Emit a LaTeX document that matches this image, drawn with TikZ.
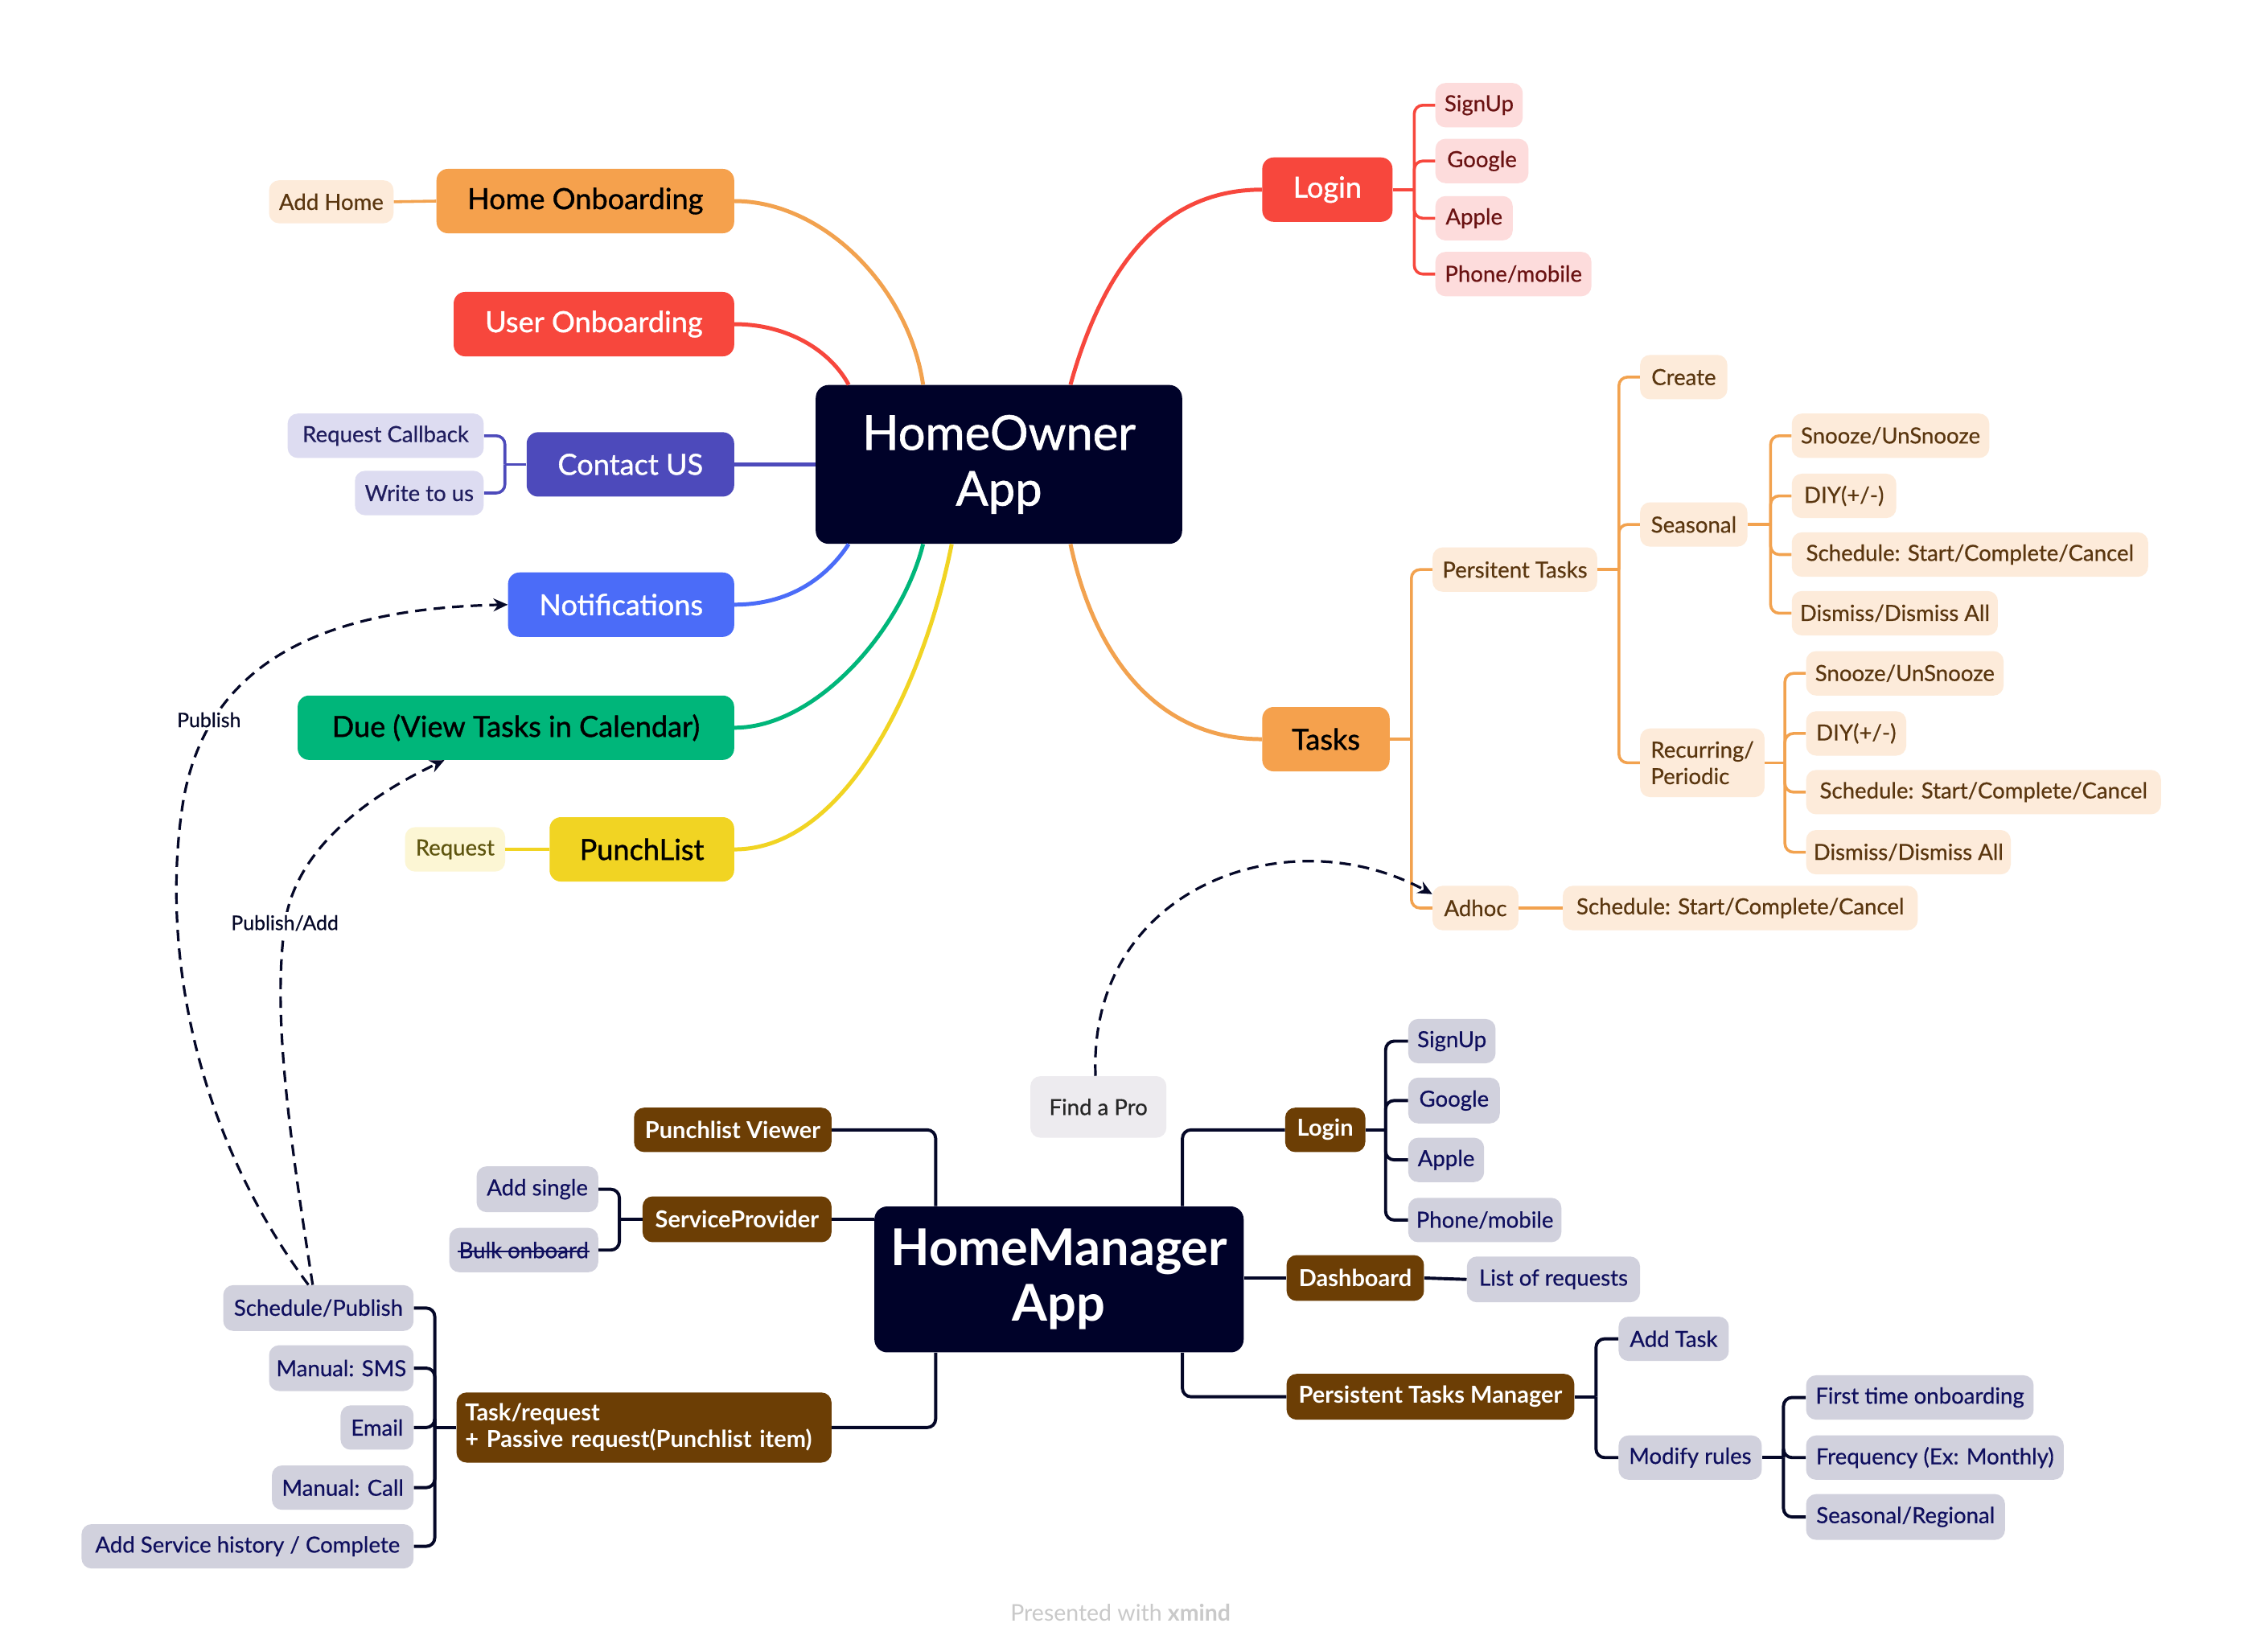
\documentclass[tikz,border=0pt]{standalone}
\usepackage{fontspec}
\setmainfont{Lato}
\newfontfamily\mmmed{Lato}[FakeBold=1.1]
\newfontfamily\mmlight{Lato}[FakeBold=0.5]
\usetikzlibrary{arrows.meta}
\definecolor{cNavy}{HTML}{000229}
\definecolor{cOrange}{HTML}{F5A14D}
\definecolor{cOrangeLn}{HTML}{F2A24F}
\definecolor{cOrangeL}{HTML}{FDEBDA}
\definecolor{cOrangeT}{HTML}{5A360F}
\definecolor{cRed}{HTML}{F7473D}
\definecolor{cRedL}{HTML}{FDDCDC}
\definecolor{cRedT}{HTML}{6A1212}
\definecolor{cIndigo}{HTML}{4D4ABB}
\definecolor{cIndigoL}{HTML}{DDDCF1}
\definecolor{cIndigoT}{HTML}{201D5E}
\definecolor{cBlue}{HTML}{4B6CF8}
\definecolor{cGreen}{HTML}{00B67A}
\definecolor{cYellow}{HTML}{F1D423}
\definecolor{cYellowL}{HTML}{FCF6D4}
\definecolor{cYellowT}{HTML}{5E550F}
\definecolor{cBrown}{HTML}{6C3E05}
\definecolor{cGray}{HTML}{D1D1DD}
\definecolor{cGrayT}{HTML}{0F0F5E}
\definecolor{cFind}{HTML}{EDEBEF}
\definecolor{cLine}{HTML}{050828}
\definecolor{cFoot}{HTML}{C9C9C9}
\newcommand\myfcent{\mmmed\fontsize{33.5}{39}\selectfont}
\newcommand\myfhm{\fontsize{35.5}{39}\selectfont\bfseries}
\newcommand\myfmain{\mmmed\fontsize{20.3}{24}\selectfont}
\newcommand\myfsub{\mmlight\fontsize{15.5}{18.5}\selectfont}
\newcommand\myfbrown{\fontsize{16.3}{18.5}\selectfont\bfseries}
\newcommand\myflab{\mmlight\fontsize{14}{16}\selectfont}
\begin{document}
\begin{tikzpicture}[x=1pt,y=-1pt,
  mmroot/.style={fill=cNavy, text=white, rounded corners=9pt, inner sep=0pt, align=center, font=\myfcent},
  mmlone/.style={rounded corners=8pt, inner sep=0pt, align=center, font=\myfmain, minimum height=45},
  mmsub/.style={rounded corners=7pt, inner sep=0pt, align=center, font=\myfsub, minimum height=31},
  mmbrn/.style={fill=cBrown, text=white, rounded corners=7pt, inner sep=0pt, align=center, font=\myfbrown, minimum height=31},
  mmgry/.style={mmsub, fill=cGray, text=cGrayT},
  mmorl/.style={mmsub, fill=cOrangeL, text=cOrangeT},
  mmrdl/.style={mmsub, fill=cRedL, text=cRedT},
  mminl/.style={mmsub, fill=cIndigoL, text=cIndigoT},
  mmyel/.style={mmsub, fill=cYellowL, text=cYellowT},
  mainln/.style={line width=2.8pt},
  subln/.style={line width=2pt, rounded corners=6pt},
  hmln/.style={cLine, line width=2.2pt, rounded corners=6pt},
  dasharr/.style={cLine, line width=1.8pt, dash pattern=on 8pt off 5pt, -{Stealth[length=10pt,width=9pt]}},
  mmlab/.style={fill=white, font=\myflab, text=cLine, inner sep=2pt}]
\useasboundingbox[fill=white] (0,0) rectangle (1568,1154);

% ---------- HomeOwner App ----------
\node[mmroot, minimum width=256, minimum height=111] (ho) at (698,324.5) {HomeOwner\\App};
\node[mmlone, fill=cOrange, text=black, minimum width=208] (hon) at (409,140.5) {Home Onboarding};
\node[mmorl, minimum width=87, minimum height=30] (addhome) at (231.5,141) {Add Home};
\node[mmlone, fill=cRed, text=white, minimum width=196] (uon) at (415,226.5) {User Onboarding};
\node[mmlone, fill=cIndigo, text=white, minimum width=145] (contact) at (440.5,324.5) {Contact US};
\node[mminl, minimum width=137] (reqcb) at (269.5,304.5) {Request Callback};
\node[mminl, minimum width=90] (write) at (293,344.5) {Write to us};
\node[mmlone, fill=cBlue, text=white, minimum width=158] (notif) at (434,422.5) {Notifications};
\node[mmlone, fill=cGreen, text=black, minimum width=305] (due) at (360.5,508.5) {Due (View Tasks in Calendar)};
\node[mmlone, fill=cYellow, text=black, minimum width=129] (punch) at (448.5,593.5) {PunchList};
\node[mmyel, minimum width=70] (request) at (318,593.5) {Request};

\node[mmlone, fill=cRed, text=white, minimum width=91] (login) at (927.5,132.5) {Login};
\node[mmrdl, minimum width=61] (signup) at (1033.5,73.5) {SignUp};
\node[mmrdl, minimum width=65] (google) at (1035.5,112.5) {Google};
\node[mmrdl, minimum width=54] (apple) at (1030,152.5) {Apple};
\node[mmrdl, minimum width=109] (phone) at (1057.5,191.5) {Phone/mobile};

\node[mmlone, fill=cOrange, text=black, minimum width=89] (tasks) at (926.5,516.5) {Tasks};
\node[mmorl, minimum width=115] (pers) at (1058.5,398) {Persitent Tasks};
\node[mmorl, minimum width=60] (adhoc) at (1031,634.5) {Adhoc};
\node[mmorl, minimum width=248] (adsched) at (1216,634.5) {Schedule: Start/Complete/Cancel};
\node[mmorl, minimum width=61] (create) at (1176.5,263.5) {Create};
\node[mmorl, minimum width=75] (seasonal) at (1183.5,366.5) {Seasonal};
\node[mmorl, minimum width=87, minimum height=48, align=left] (recur) at (1189.5,533) {Recurring/\\Periodic};
\node[mmorl, minimum width=138] (sa) at (1321,304.5) {Snooze/UnSnooze};
\node[mmorl, minimum width=73] (sb) at (1288.5,346.5) {DIY(+/-)};
\node[mmorl, minimum width=249] (sc) at (1376.5,387.5) {Schedule: Start/Complete/Cancel};
\node[mmorl, minimum width=144] (sd) at (1324,428.5) {Dismiss/Dismiss All};
\node[mmorl, minimum width=138] (ra) at (1331,470.5) {Snooze/UnSnooze};
\node[mmorl, minimum width=70] (rb) at (1297,512.5) {DIY(+/-)};
\node[mmorl, minimum width=248] (rc) at (1386,553.5) {Schedule: Start/Complete/Cancel};
\node[mmorl, minimum width=143] (rd) at (1333.5,595.5) {Dismiss/Dismiss All};

% ---------- HomeManager App ----------
\node[mmroot, font=\myfhm, minimum width=258, minimum height=102] (hm) at (740,894) {HomeManager\\App};
\node[mmbrn, minimum width=138] (pv) at (512,789.5) {Punchlist Viewer};
\node[mmbrn, minimum width=132, minimum height=32] (sp) at (515,852) {ServiceProvider};
\node[mmgry, minimum width=85, minimum height=32] (addsingle) at (375.5,831) {Add single};
\node[mmgry, minimum width=104] (bulk) at (366,873.5) {Bulk onboard};
\draw[cGrayT, line width=1.1pt] ([xshift=6,yshift=-1]bulk.west) -- ([xshift=-6,yshift=-1]bulk.east);
\node[mmbrn, minimum width=262, minimum height=49, text width=250, inner xsep=6, align=left] (taskreq) at (450,997.5) {Task/request\\+ Passive request(Punchlist item)};
\node[mmgry, minimum width=133, minimum height=32] (schpub) at (222.5,914) {Schedule/Publish};
\node[mmgry, minimum width=101, minimum height=32] (sms) at (238.5,956) {Manual: SMS};
\node[mmgry, minimum width=51] (email) at (263.5,997.5) {Email};
\node[mmgry, minimum width=99] (call) at (239.5,1039.5) {Manual: Call};
\node[mmgry, minimum width=232] (history) at (173,1080.5) {Add Service history / Complete};

\node[mmbrn, minimum width=56] (hlogin) at (926,789.5) {Login};
\node[mmgry, minimum width=61] (hsign) at (1014.5,727.5) {SignUp};
\node[mmgry, minimum width=64, minimum height=32] (hgoogle) at (1016,769) {Google};
\node[mmgry, minimum width=53] (happle) at (1010.5,810.5) {Apple};
\node[mmgry, minimum width=107] (hphone) at (1037.5,852.5) {Phone/mobile};
\node[mmbrn, minimum width=96, minimum height=32] (dash) at (947,893) {Dashboard};
\node[mmgry, minimum width=121, minimum height=32] (list) at (1085.5,894) {List of requests};
\node[mmbrn, minimum width=201, minimum height=32] (ptm) at (999.5,976) {Persistent Tasks Manager};
\node[mmgry, minimum width=77] (addtask) at (1169.5,935.5) {Add Task};
\node[mmgry, minimum width=100] (modify) at (1181,1018.5) {Modify rules};
\node[mmgry, minimum width=159] (first) at (1341.5,976.5) {First time onboarding};
\node[mmgry, minimum width=180] (freq) at (1352,1018.5) {Frequency (Ex: Monthly)};
\node[mmgry, minimum width=139, minimum height=32] (seasreg) at (1331.5,1060) {Seasonal/Regional};
\node[mmsub, fill=cFind, text=black!85, minimum width=95, minimum height=43] (findpro) at (767.5,773.5) {Find a Pro};

\node[font=\fontsize{16}{18}\selectfont, text=cFoot] (foot) at (783,1127) {Presented with \textbf{xmind}};

% ---------- HomeOwner connectors ----------
\draw[mainln, cOrangeLn] (hon.east) .. controls +(62,0) and +(-10,-68) .. ([xshift=-53]ho.north);
\draw[subln, cOrangeLn] (addhome.east) -- (hon.west);
\draw[mainln, cRed] (uon.east) .. controls +(37,0) and +(-13,-24) .. ([xshift=-105]ho.north);
\draw[mainln, cIndigo] (contact.east) -- (contact.east -| ho.west);
\draw[subln, cIndigo] (contact.west) -- ++(-15,0) coordinate (cj);
\draw[subln, cIndigo] (cj) |- (reqcb.east);
\draw[subln, cIndigo] (cj) |- (write.east);
\draw[mainln, cBlue] (notif.east) .. controls +(42,0) and +(-13,20) .. ([xshift=-105]ho.south);
\draw[mainln, cGreen] (due.east) .. controls +(57,0) and +(-15,60) .. ([xshift=-53]ho.south);
\draw[mainln, cYellow] (punch.east) .. controls +(77,0) and +(-20,100) .. ([xshift=-33]ho.south);
\draw[subln, cYellow] (request.east) -- (punch.west);

\draw[mainln, cRed] ([xshift=50]ho.north) .. controls +(22,-79) and +(-72,0) .. (login.west);
\draw[subln, cRed] (login.east) -- ++(15,0) coordinate (lj);
\foreach \c in {signup,google,apple,phone} \draw[subln, cRed] (lj) |- (\c.west);

\draw[mainln, cOrangeLn] ([xshift=50]ho.south) .. controls +(17,80) and +(-72,0) .. (tasks.west);
\draw[subln, cOrangeLn] (tasks.east) -- ++(15,0) coordinate (tj);
\foreach \c in {pers,adhoc} \draw[subln, cOrangeLn] (tj) |- (\c.west);
\draw[subln, cOrangeLn] (adhoc.east) -- (adsched.west);
\draw[subln, cOrangeLn] (pers.east) -- ++(15,0) coordinate (pj);
\foreach \c in {create,seasonal,recur} \draw[subln, cOrangeLn] (pj) |- (\c.west);
\draw[subln, cOrangeLn] (seasonal.east) -- ++(16,0) coordinate (sj);
\foreach \c in {sa,sb,sc,sd} \draw[subln, cOrangeLn] (sj) |- (\c.west);
\draw[subln, cOrangeLn] (recur.east) -- ++(14,0) coordinate (rj);
\foreach \c in {ra,rb,rc,rd} \draw[subln, cOrangeLn] (rj) |- (\c.west);

% ---------- HomeManager connectors ----------
\draw[hmln] (pv.east) -| ([xshift=43]hm.north west);
\draw[hmln] (sp.east) -- (sp.east -| hm.west);
\draw[hmln] (taskreq.east) -| ([xshift=43]hm.south west);
\draw[hmln] (sp.west) -- ++(-16,0) coordinate (spj);
\foreach \c in {addsingle,bulk} \draw[hmln] (spj) |- (\c.east);
\draw[hmln] (taskreq.west) -- ++(-15,0) coordinate (trj);
\foreach \c in {schpub,sms,email,call,history} \draw[hmln] (trj) |- (\c.east);

\draw[hmln] ([xshift=-43]hm.north east) |- (hlogin.west);
\draw[hmln] (hlogin.east) -- ++(14,0) coordinate (hlj);
\foreach \c in {hsign,hgoogle,happle,hphone} \draw[hmln] (hlj) |- (\c.west);
\draw[hmln] (dash.west -| hm.east) -- (dash.west);
\draw[hmln] (dash.east) -- (list.west);
\draw[hmln] ([xshift=-43]hm.south east) |- (ptm.west);
\draw[hmln] (ptm.east) -- ++(15,0) coordinate (ptj);
\foreach \c in {addtask,modify} \draw[hmln] (ptj) |- (\c.west);
\draw[hmln] (modify.east) -- ++(15,0) coordinate (mj);
\foreach \c in {first,freq,seasreg} \draw[hmln] (mj) |- (\c.west);

% ---------- dashed relations ----------
\draw[dasharr] ([xshift=-7]schpub.north) .. controls (135,790) and (112,660) .. (128,560)
   .. controls (145,460) and (230,425) .. (notif.west);
\draw[dasharr] ([xshift=-4]schpub.north) .. controls (200,780) and (190,700) .. (200,640)
   .. controls (210,590) and (260,555) .. ([xshift=-50]due.south);
\draw[dasharr] ([xshift=-2]findpro.north) .. controls (760,620) and (900,570) .. ([yshift=-6]adhoc.north west);
\node[mmlab] (lpub) at (146,503) {Publish};
\node[mmlab] (lpubadd) at (199,645) {Publish/Add};
\end{tikzpicture}
\end{document}
